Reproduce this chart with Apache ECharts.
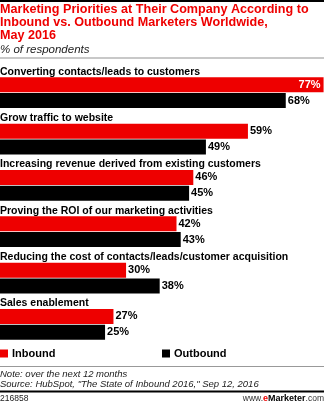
<!DOCTYPE html>
<html>
<head>
<meta charset="utf-8">
<script src="https://cdn.jsdelivr.net/npm/echarts@6/dist/echarts.min.js"></script>
<style>
html,body{margin:0;padding:0;background:#fff;}
#chart{width:324px;height:403px;}
</style>
</head>
<body>
<div id="chart"></div>
<script>
const categories = [
  'Converting contacts/leads to customers',
  'Grow traffic to website',
  'Increasing revenue derived from existing customers',
  'Proving the ROI of our marketing activities',
  'Reducing the cost of contacts/leads/customer acquisition',
  'Sales enablement'
];
const inbound = [77, 59, 46, 42, 30, 27];
const outbound = [68, 49, 45, 43, 38, 25];
const seriesNames = ['Inbound', 'Outbound'];
const titleLines = [
  'Marketing Priorities at Their Company According to',
  'Inbound vs. Outbound Marketers Worldwide,',
  'May 2016'
];
const subtitle = '% of respondents';
const noteLines = [
  'Note: over the next 12 months',
  'Source: HubSpot, "The State of Inbound 2016," Sep 12, 2016'
];
const footerId = '216858';

const RED = '#ee0000';
const FONT = '"Liberation Sans", Arial, sans-serif';

const chart = echarts.init(document.getElementById('chart'), null, {renderer: 'canvas'});

function valueLabel() {
  return {
    show: true,
    position: 'right',
    distance: 2,
    formatter: p => p.value + '%',
    color: '#000',
    fontFamily: FONT,
    fontWeight: 'bold',
    fontSize: 11
  };
}

const inboundData = inbound.map((v, i) => {
  if (i === 0) {
    return {value: v, label: {position: 'insideRight', color: '#fff', distance: 3}};
  }
  return v;
});

const option = {
  animation: false,
  backgroundColor: '#fff',
  grid: {left: 0, right: 0, top: 69.5, height: 278, containLabel: false, outerBoundsMode: 'none'},
  xAxis: {type: 'value', min: 0, max: 77.1, show: false},
  yAxis: {
    type: 'category',
    data: categories,
    inverse: true,
    axisLine: {show: false},
    axisTick: {show: false},
    splitLine: {show: false},
    z: 10,
    axisLabel: {
      inside: true,
      interval: 0,
      margin: 0,
      align: 'left',
      verticalAlign: 'middle',
      formatter: v => '{n|' + v + '}\n{s|}',
      rich: {
        n: {fontFamily: FONT, fontWeight: 'bold', fontSize: 10.5, color: '#000', lineHeight: 12},
        s: {lineHeight: 41.5}
      }
    }
  },
  legend: [
    {
      data: [seriesNames[0]], left: 0, top: 348, itemWidth: 8, itemHeight: 8,
      icon: 'rect', itemGap: 0, padding: 0,
      textStyle: {fontFamily: FONT, fontWeight: 'bold', fontSize: 11, color: '#000', padding: [0, 0, 0, -1]}
    },
    {
      data: [seriesNames[1]], left: 162, top: 348, itemWidth: 8, itemHeight: 8,
      icon: 'rect', itemGap: 0, padding: 0,
      textStyle: {fontFamily: FONT, fontWeight: 'bold', fontSize: 11, color: '#000', padding: [0, 0, 0, -1]}
    }
  ],
  series: [
    {
      name: seriesNames[0], type: 'bar', data: inboundData,
      barWidth: 15, barGap: '5%',
      itemStyle: {color: RED},
      label: valueLabel()
    },
    {
      name: seriesNames[1], type: 'bar', data: outbound,
      barWidth: 15, barGap: '5%',
      itemStyle: {color: '#000'},
      label: valueLabel()
    }
  ],
  graphic: [
    {type: 'rect', shape: {x: 0, y: 0, width: 324, height: 2}, style: {fill: '#000'}},
    {type: 'text', x: 0, y: 3.5, style: {text: titleLines.join('\n'), fill: RED, font: 'bold 12.6px ' + FONT, lineHeight: 12.8}},
    {type: 'text', x: 0, y: 43.5, style: {text: subtitle, fill: '#222', font: 'italic 11.5px ' + FONT}},
    {type: 'rect', shape: {x: 0, y: 57, width: 324, height: 2}, style: {fill: '#c8c8c8'}},
    {type: 'rect', shape: {x: 0, y: 366, width: 324, height: 1}, style: {fill: '#999'}},
    {type: 'text', x: 0, y: 369, style: {text: noteLines.join('\n'), fill: '#222', font: 'italic 9.5px ' + FONT, lineHeight: 10}},
    {type: 'rect', shape: {x: 0, y: 390.5, width: 324, height: 2}, style: {fill: '#000'}},
    {type: 'text', x: 0, y: 394, style: {text: footerId, fill: '#222', font: '8.5px ' + FONT}},
    {type: 'text', right: 0, y: 394, style: {
      text: '{a|www.}{b|e}{c|Marketer}{a|.com}',
      rich: {
        a: {fill: '#333', font: '8.5px ' + FONT},
        b: {fill: RED, font: 'bold 9px ' + FONT},
        c: {fill: '#000', font: 'bold 9px ' + FONT}
      }
    }}
  ]
};
chart.setOption(option);
</script>
</body>
</html>
